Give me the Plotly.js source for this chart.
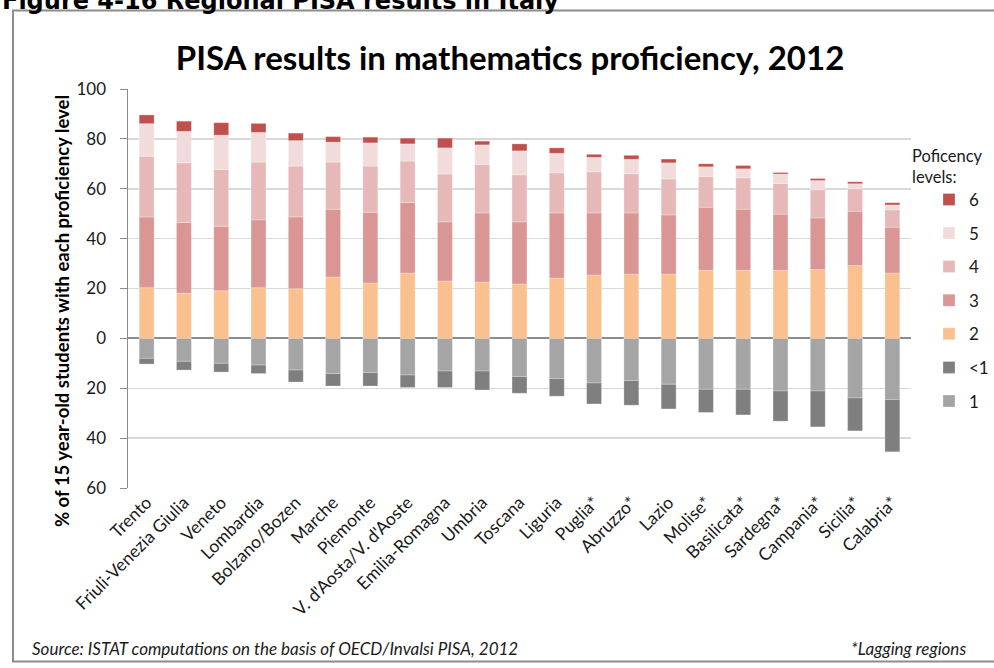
<!DOCTYPE html>
<html>
<head>
<meta charset="utf-8">
<script src="https://cdn.plot.ly/plotly-3.0.1.min.js"></script>
<style>
  html, body { margin: 0; padding: 0; background: #ffffff; }
  #grafico { width: 994px; height: 668px; }
</style>
</head>
<body>
<div id="grafico"></div>
<script>
// regioni, in ordine come nel grafico
const regions = ['Trento', 'Friuli-Venezia Giulia', 'Veneto', 'Lombardia', 'Bolzano/Bozen', 'Marche',
    'Piemonte', "V. d'Aosta/V. d'Aoste", 'Emilia-Romagna', 'Umbria', 'Toscana', 'Liguria', 'Puglia*',
    'Abruzzo*', 'Lazio', 'Molise*', 'Basilicata*', 'Sardegna*', 'Campania*', 'Sicilia*', 'Calabria*'];

// % studenti per livello
const level2 = [20.3, 18.1, 19.1, 20.3, 19.9, 24.6, 22.2, 26.2, 23.0, 22.6, 21.8, 24.2, 25.4, 25.8, 25.8, 27.3, 27.3, 27.3, 27.6, 29.2, 26.2];
const level3 = [28.4, 28.4, 25.9, 27.2, 28.8, 27.2, 28.4, 28.3, 23.7, 27.7, 24.9, 26.1, 24.9, 24.5, 23.7, 25.3, 24.5, 22.5, 20.7, 21.8, 18.4];
const level4 = [24.3, 23.9, 22.7, 23.2, 20.4, 18.9, 18.5, 16.6, 19.2, 19.4, 18.9, 16.1, 16.5, 15.7, 14.4, 12.3, 12.6, 12.3, 11.3, 9.0, 6.9];
const level5 = [13.1, 12.6, 13.8, 11.9, 10.2, 8.0, 9.3, 6.9, 10.5, 7.9, 9.6, 7.8, 5.8, 5.8, 6.5, 3.9, 3.6, 3.8, 3.7, 2.0, 2.0];
const level6 = [3.5, 4.1, 5.0, 3.6, 3.0, 2.2, 2.3, 2.3, 3.9, 1.5, 2.8, 2.2, 1.2, 1.6, 1.5, 1.2, 1.3, 0.6, 0.8, 0.8, 0.9];
// sotto lo zero
const level1 = [8.0, 9.2, 10.0, 10.7, 12.7, 14.1, 13.7, 14.7, 13.1, 13.1, 15.3, 16.1, 17.9, 16.9, 18.4, 20.4, 20.4, 21.1, 21.1, 23.9, 24.5];
const below1 = [2.3, 3.5, 3.5, 3.4, 4.8, 5.0, 5.4, 5.0, 6.6, 7.6, 6.7, 7.1, 8.4, 9.9, 9.9, 9.3, 10.3, 12.1, 14.4, 13.2, 21.0];

const yTicks = [-60, -40, -20, 0, 20, 40, 60, 80, 100];
const yTickText = ['60', '40', '20', '0', '20', '40', '60', '80', '100'];

// area del grafico in pixel
const L = 128, R = 911, T = 89.3, B = 487.7;
const px = x => (x - L) / (R - L);
const py = y => (B - y) / (B - T);

const FONT = 'Lato, "Open Sans", sans-serif';

function serie(nome, valori, colore, negativo, rank) {
    return {
        x: regions,
        y: negativo ? valori.map(v => -v) : valori,
        name: nome,
        legendgroup: nome,
        legendrank: rank,
        type: 'bar',
        marker: { color: colore, line: { color: 'rgba(255,255,255,0.5)', width: 0.5 } },
        hovertemplate: nome + ': %{customdata:.1f}%<extra></extra>',
        customdata: valori
    };
}

// ordine: prima 1 e <1 (sotto lo zero), poi 2..6 (sopra)
const traces = [
    serie('1', level1, '#a5a5a5', true, 7),
    serie('<1', below1, '#7f7f7f', true, 6),
    serie('2', level2, '#fac090', false, 5),
    serie('3', level3, '#d99694', false, 4),
    serie('4', level4, '#e6b9b8', false, 3),
    serie('5', level5, '#f2dcdb', false, 2),
    serie('6', level6, '#c0504d', false, 1)
];

const layout = {
    width: 994,
    height: 668,
    paper_bgcolor: '#ffffff',
    plot_bgcolor: '#ffffff',
    font: { family: FONT, color: '#1a1a1a', size: 16 },
    margin: { l: L, r: 994 - R, t: T, b: 668 - B, pad: 0, autoexpand: false },
    barmode: 'relative',
    bargap: 0.6,
    title: {
        text: 'PISA results in mathematics proficiency, 2012',
        font: { family: FONT, size: 33, weight: 'bold', color: '#000000' },
        xref: 'container', x: 510 / 994, xanchor: 'center',
        yref: 'container', y: 1 - 58 / 668, yanchor: 'middle'
    },
    xaxis: {
        type: 'category',
        tickangle: -45,
        showgrid: false,
        showline: false,
        ticks: '',
        automargin: false,
        tickfont: { family: FONT, size: 17.5, color: '#1a1a1a' }
    },
    yaxis: {
        range: [-60, 100],
        tickvals: yTicks,
        ticktext: yTickText,
        showline: true,
        linecolor: '#8c8c8c',
        linewidth: 1.5,
        ticks: 'outside',
        ticklen: 7,
        tickcolor: '#8c8c8c',
        ticklabelstandoff: 10,
        gridcolor: '#d9d9d9',
        gridwidth: 1.5,
        zeroline: true,
        zerolinecolor: '#8c8c8c',
        zerolinewidth: 2,
        automargin: false,
        tickfont: { family: FONT, size: 17, color: '#1a1a1a' }
    },
    showlegend: true,
    legend: {
        traceorder: 'grouped',
        tracegroupgap: 8.5,
        x: px(929), xanchor: 'left',
        y: py(182), yanchor: 'top',
        font: { family: FONT, size: 17, color: '#1a1a1a' },
        bgcolor: 'rgba(0,0,0,0)'
    },
    shapes: [
        {
            type: 'rect', xref: 'paper', yref: 'paper', layer: 'below',
            x0: px(13), x1: px(1000), y0: py(661), y1: py(11),
            line: { color: '#8c8c8c', width: 2 }
        }
    ],
    annotations: [
        {
            text: '<b>Figure 4-16 Regional PISA results in Italy</b>',
            xref: 'paper', yref: 'paper', x: px(0), y: py(1),
            xanchor: 'left', yanchor: 'middle', showarrow: false,
            font: { family: '"DejaVu Sans", sans-serif', size: 24, color: '#000000' }
        },
        {
            text: '<b>% of 15 year-old students with each proficiency level</b>',
            xref: 'paper', yref: 'paper', x: px(62), y: py(311),
            xanchor: 'center', yanchor: 'middle', textangle: -90, showarrow: false,
            font: { family: FONT, size: 18.5, color: '#000000' }
        },
        {
            text: 'Poficency<br>levels:',
            xref: 'paper', yref: 'paper', x: px(910), y: py(167),
            xanchor: 'left', yanchor: 'middle', align: 'left', showarrow: false,
            font: { family: FONT, size: 16.5, color: '#1a1a1a' }
        },
        {
            text: '<i>Source: ISTAT computations on the basis of OECD/Invalsi PISA, 2012</i>',
            xref: 'paper', yref: 'paper', x: px(30), y: py(648),
            xanchor: 'left', yanchor: 'middle', showarrow: false,
            font: { family: FONT, size: 17, color: '#1a1a1a' }
        },
        {
            text: '<i>*Lagging regions</i>',
            xref: 'paper', yref: 'paper', x: px(968), y: py(648),
            xanchor: 'right', yanchor: 'middle', showarrow: false,
            font: { family: FONT, size: 17, color: '#1a1a1a' }
        }
    ]
};

Plotly.newPlot('grafico', traces, layout, { displayModeBar: false, staticPlot: true });
</script>
</body>
</html>
